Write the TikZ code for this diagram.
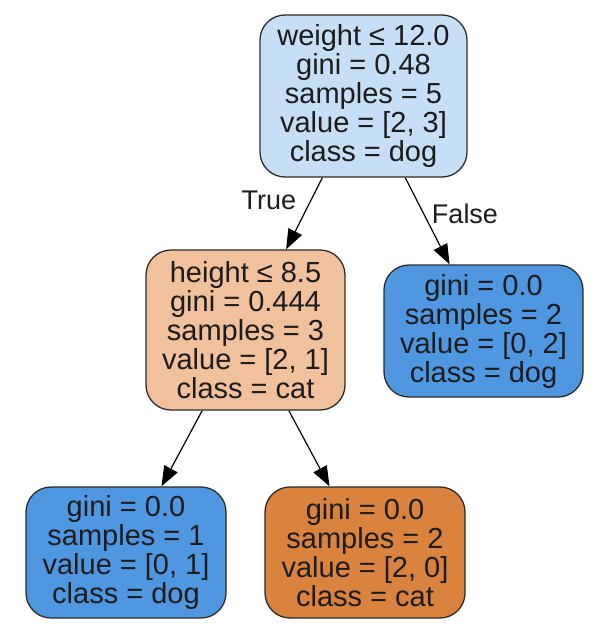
\documentclass[tikz,border=0pt]{standalone}
\usepackage{fontspec}
\setmainfont{Liberation Sans}
\usetikzlibrary{arrows.meta}
\definecolor{rootblue}{HTML}{C6DEF6}
\definecolor{peach}{HTML}{F1C09C}
\definecolor{dogblue}{HTML}{5097E1}
\definecolor{catorange}{HTML}{D9833F}
\definecolor{edgegray}{HTML}{2B2B2B}
\definecolor{txt}{HTML}{1C1C1C}
\begin{document}
\begin{tikzpicture}[x=1pt,y=-1pt,
  treebox/.style={draw=edgegray, line width=1.3pt, rounded corners=25pt,
    align=center, inner sep=0pt, text=txt,
    font=\fontsize{29}{29}\selectfont},
  edgelab/.style={font=\fontsize{27}{29}\selectfont, text=txt, inner sep=0pt},
  conn/.style={draw=black, line width=1.2pt, -{Triangle[length=20pt,width=15pt]}}]
\useasboundingbox (0,0) rectangle (600,634);
\node[treebox, fill=rootblue, minimum width=207pt, minimum height=162pt] (root) at (363.5,96)
  {weight ≤ 12.0\\gini = 0.48\\samples = 5\\value = [2, 3]\\class = dog};
\node[treebox, fill=peach, minimum width=199pt, minimum height=160pt] (mid) at (245.5,330)
  {height ≤ 8.5\\gini = 0.444\\samples = 3\\value = [2, 1]\\class = cat};
\node[treebox, fill=dogblue, minimum width=199pt, minimum height=132pt] (right) at (483.5,331)
  {gini = 0.0\\samples = 2\\value = [0, 2]\\class = dog};
\node[treebox, fill=dogblue, minimum width=200pt, minimum height=131pt] (bl) at (126,552.5)
  {gini = 0.0\\samples = 1\\value = [0, 1]\\class = dog};
\node[treebox, fill=catorange, minimum width=200pt, minimum height=131pt] (br) at (365,552.5)
  {gini = 0.0\\samples = 2\\value = [2, 0]\\class = cat};
\draw[conn] (root) -- (mid);
\draw[conn] (root) -- (right);
\draw[conn] (mid) -- (bl);
\draw[conn] (mid) -- (br);
\node[edgelab] (truelab) at (269,200) {True};
\node[edgelab] (falselab) at (465,214) {False};
\end{tikzpicture}
\end{document}
